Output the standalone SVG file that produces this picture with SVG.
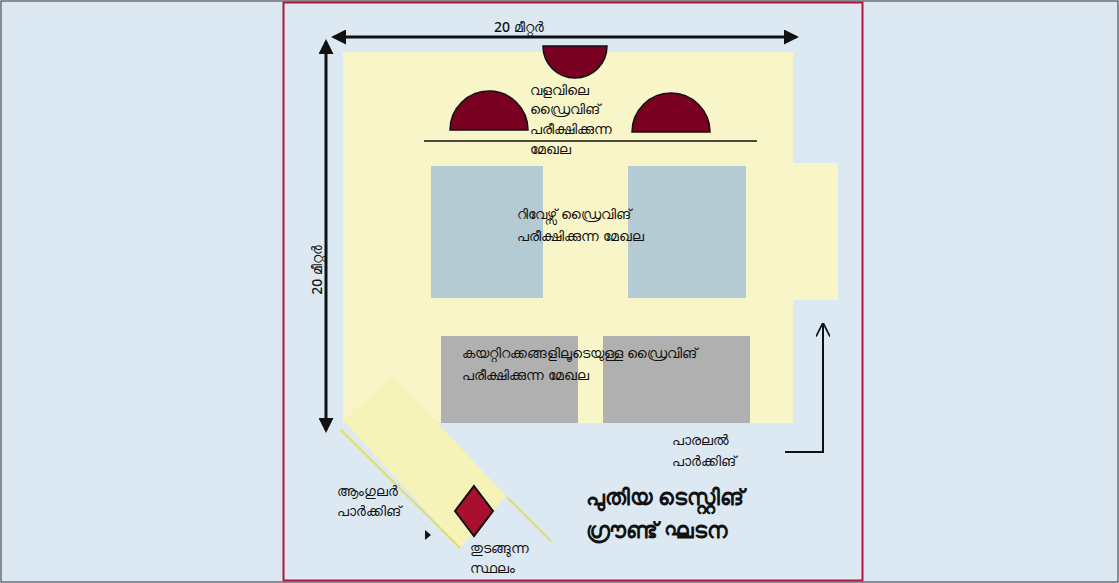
<svg xmlns="http://www.w3.org/2000/svg" width="1119" height="583" viewBox="0 0 1119 583">
<style>
text{font-family:"Noto Sans","DejaVu Sans",sans-serif;font-size:14px;fill:#111;font-weight:500}
.b{font-size:22px;font-weight:bold}
.dark{fill:#7a0022;stroke:#111;stroke-width:1.5}
.ln{stroke:#111;stroke-width:3;fill:none}
</style>
<defs>
<marker id="ah" viewBox="0 0 10 10" refX="8" refY="5" markerWidth="5" markerHeight="5" orient="auto-start-reverse"><path d="M0,0L10,5L0,10z" fill="#111"/></marker>
<marker id="oh" viewBox="0 0 10 10" refX="9" refY="5" markerWidth="7" markerHeight="7" orient="auto"><path d="M0,0L10,5L0,10" fill="none" stroke="#111" stroke-width="1.2"/></marker>
</defs>
<rect width="1119" height="583" fill="#dde9f2"/>
<rect x="1" y="1" width="1117" height="581" fill="none" stroke="#333" stroke-width="1"/>
<rect x="283.5" y="2.5" width="579" height="578" fill="none" stroke="#b0193a" stroke-width="2"/>
<g id="ground">
<rect x="343" y="52" width="450" height="371" fill="#f8f6c8"/>
<rect x="793" y="163" width="45" height="137" fill="#f8f6c8"/>
</g>
<g id="angular">
<polygon points="393,376 343,420 460,548 506,496" fill="#f6f3b8"/>
<line x1="341" y1="430" x2="460" y2="548" stroke="#e0e060" stroke-width="2"/>
<line x1="507" y1="497" x2="551" y2="541" stroke="#e0e060" stroke-width="2"/>
<text x="337" y="496">ആംഗുലർ</text>
<text x="337" y="516">പാർക്കിങ്</text>
</g>
<g id="start">
<polygon points="474,486 493,511 474,536 455,511" fill="#a8102e" stroke="#111" stroke-width="2"/>
<text x="470" y="553">തുടങ്ങുന്ന</text>
<text x="470" y="573">സ്ഥലം</text>
</g>
<g id="curve">
<path d="M543,46 A32,32 0 0 0 607,46 Z" class="dark"/>
<path d="M450,130 A39,39 0 0 1 528,130 Z" class="dark"/>
<path d="M632,132 A39,39 0 0 1 710,132 Z" class="dark"/>
<line x1="424" y1="141" x2="757" y2="141" stroke="#111" stroke-width="1.5"/>
<text x="530" y="95">വളവിലെ</text>
<text x="530" y="114">ഡ്രൈവിങ്</text>
<text x="530" y="134">പരീക്ഷിക്കുന്ന</text>
<text x="530" y="154">മേഖല</text>
</g>
<g id="reverse">
<rect x="431" y="166" width="112" height="132" fill="#b5cbd3"/>
<rect x="628" y="166" width="118" height="132" fill="#b5cbd3"/>
<text x="517" y="219">റിവേഴ്സ് ഡ്രൈവിങ്</text>
<text x="517" y="241">പരീക്ഷിക്കുന്ന  മേഖല</text>
</g>
<g id="slope">
<rect x="441" y="336" width="137" height="87" fill="#b0b0b0"/>
<rect x="603" y="336" width="147" height="87" fill="#b0b0b0"/>
<text x="462" y="358">കയറ്റിറക്കങ്ങളിലൂടെയുള്ള ഡ്രൈവിങ്</text>
<text x="462" y="380">പരീക്ഷിക്കുന്ന മേഖല</text>
</g>
<g id="parallel">
<text x="672" y="445">പാരലൽ</text>
<text x="672" y="466">പാർക്കിങ്</text>
</g>
<g id="title">
<text class="b" x="586" y="505">പുതിയ ടെസ്റ്റിങ്</text>
<text class="b" x="586" y="538">ഗ്രൗണ്ട് ഘടന</text>
</g>
<g id="connectors">
<line x1="334" y1="37" x2="796" y2="37" class="ln" marker-start="url(#ah)" marker-end="url(#ah)"/>
<line x1="326" y1="42" x2="326" y2="430" class="ln" marker-start="url(#ah)" marker-end="url(#ah)"/>
<polyline points="785,452 823,452 823,324" fill="none" stroke="#111" stroke-width="2" marker-end="url(#oh)"/>
<path d="M425,530 L431,535 L425,540z" fill="#111"/>
<text x="494" y="32">20 മീറ്റർ</text>
<text x="322" y="270" transform="rotate(-90 322 270)" text-anchor="middle">20 മീറ്റർ</text>
</g>
</svg>
